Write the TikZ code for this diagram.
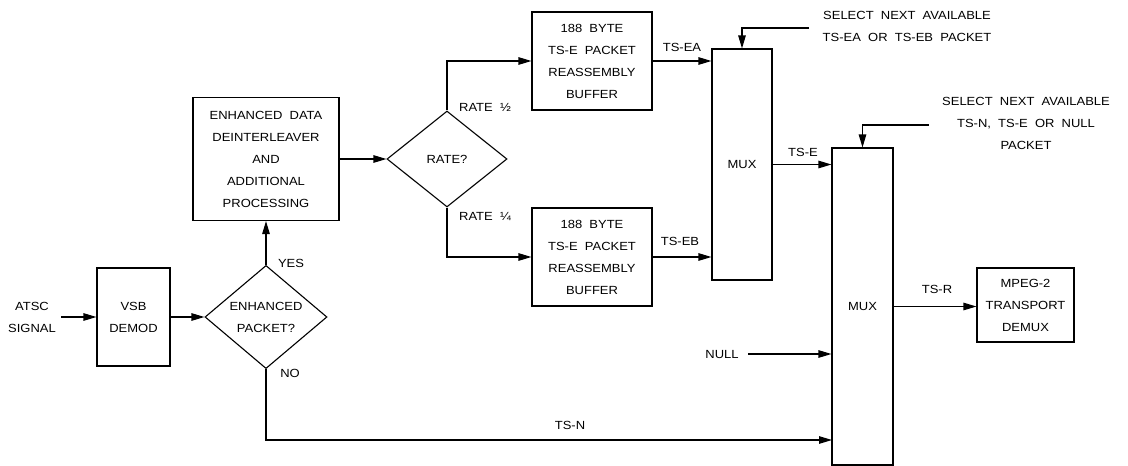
\documentclass[tikz,border=0pt]{standalone}
\usepackage{fontspec}
\setmainfont[FakeStretch=1.1]{Liberation Sans}
\usetikzlibrary{shapes.geometric,arrows.meta}
\begin{document}
\begin{tikzpicture}[x=1pt,y=-1pt,line width=1.1pt,
  every node/.style={font=\fontsize{11.8}{22}\selectfont,align=center,inner sep=1pt},
  blk/.style={draw,minimum width=#1},
  dec/.style={draw,diamond,inner sep=0pt},
  sig/.style={-{Triangle[length=13pt,width=7.5pt]}}]
  \useasboundingbox (0,0) rectangle (1128,466);
  % Input side
  \node (atsc) at (32,317) {ATSC\\SIGNAL};
  \node[blk=73,minimum height=98] (vsb) at (133.5,317) {VSB\\DEMOD};
  \node[dec,minimum width=122,minimum height=97] (enh) at (266,317) {ENHANCED\\PACKET?};
  \node[blk=146,minimum height=123] (data) at (266,159)
    {ENHANCED~~DATA\\DEINTERLEAVER\\AND\\ADDITIONAL\\PROCESSING};
  \node[dec,minimum width=120,minimum height=96] (rate) at (447,159) {RATE?};
  \node (yes) at (291,263) {YES};
  \node (no) at (290,373) {NO};
  \node (half) at (485,107) {RATE~~½};
  \node (quarter) at (485,217) {RATE~~¼};
  % Reassembly buffers
  \node[blk=120,minimum height=98] (bufA) at (592,61)
    {188~~BYTE\\TS-E~~PACKET\\REASSEMBLY\\BUFFER};
  \node[blk=120,minimum height=98] (bufB) at (592,257)
    {188~~BYTE\\TS-E~~PACKET\\REASSEMBLY\\BUFFER};
  \node (tsea) at (682,47) {TS-EA};
  \node (tseb) at (680,241) {TS-EB};
  % Multiplexers
  \node[blk=60,minimum height=231] (muxA) at (742,164.5) {MUX};
  \node[blk=61,minimum height=317] (muxB) at (862.5,306.5) {MUX};
  \node (tse) at (803,152) {TS-E};
  \node (selA) at (907,26) {SELECT~~NEXT~~AVAILABLE\\TS-EA~~OR~~TS-EB~~PACKET};
  \node (selB) at (1026,123.5) {SELECT~~NEXT~~AVAILABLE\\TS-N,~~TS-E~~OR~~NULL\\PACKET};
  \node (null) at (722,354) {NULL};
  \node (tsn) at (570,425) {TS-N};
  \node (tsr) at (937,289) {TS-R};
  \node[blk=97,minimum height=74] (mpeg) at (1025.5,305) {MPEG-2\\TRANSPORT\\DEMUX};
  \coordinate (tsnin) at (832,440);
  % Connectors
  \draw[sig] ([xshift=4pt]atsc.east) -- (vsb.west);
  \draw[sig] (vsb.east) -- (enh.west);
  \draw[sig] (enh.north) -- (data.south);
  \draw[sig] (data.east) -- (rate.west);
  \draw[sig] (rate.north) |- (bufA.west);
  \draw[sig] (rate.south) |- (bufB.west);
  \draw[sig] (bufA.east) -- (bufA.east -| muxA.west);
  \draw[sig] (bufB.east) -- (bufB.east -| muxA.west);
  \draw[sig] (muxA.east) -- (muxA.east -| muxB.west);
  \draw[sig] (enh.south) |- (tsnin);
  \draw[sig] ([xshift=8pt]null.east) -- (null.east -| muxB.west);
  \draw[sig] (muxB.east) -- (muxB.east -| mpeg.west);
  \draw[sig] ([xshift=-12pt,yshift=-2pt]selA.west) -| (muxA.north);
  \draw[sig] ([xshift=-12pt,yshift=-1.5pt]selB.west) -| (muxB.north);
\end{tikzpicture}
\end{document}
